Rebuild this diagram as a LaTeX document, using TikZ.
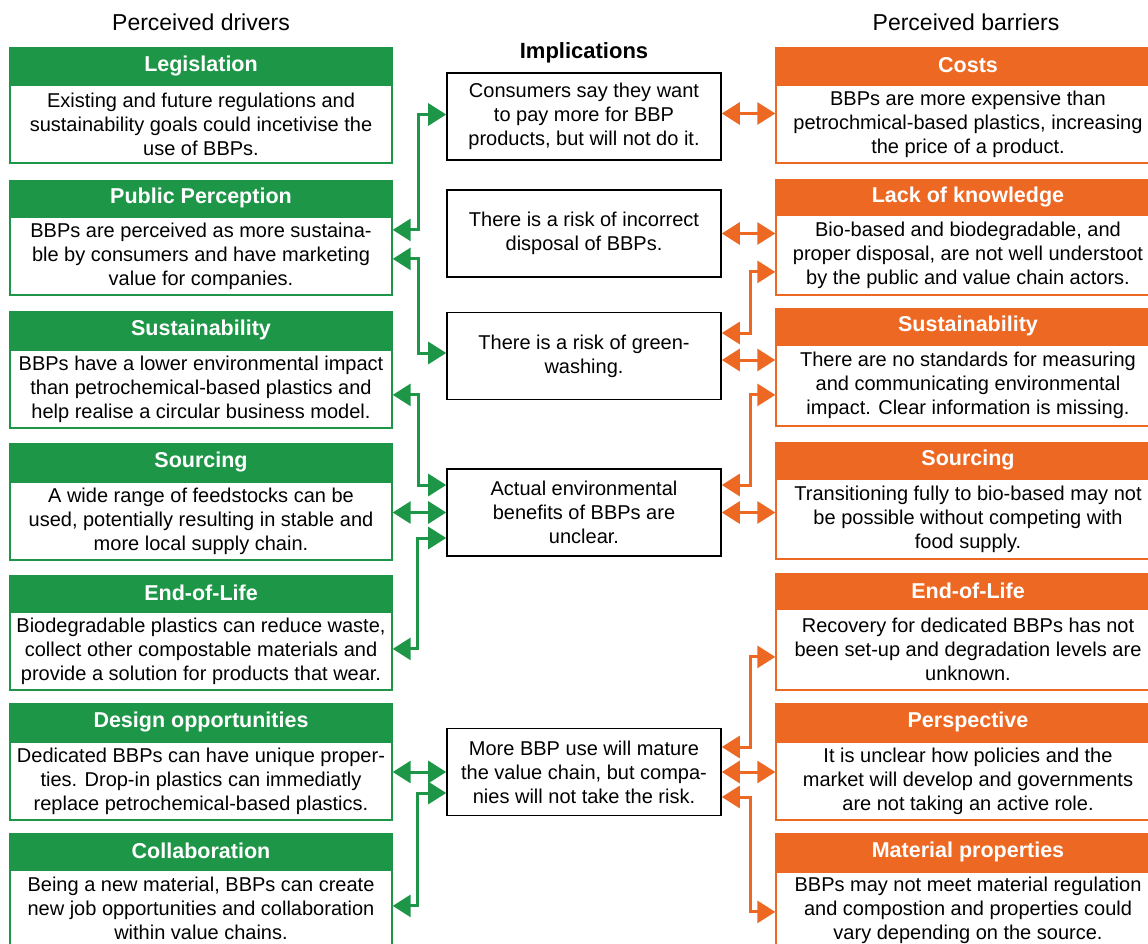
\documentclass[tikz,border=0pt]{standalone}
\usepackage{fontspec}
\setmainfont{Liberation Sans}
\usetikzlibrary{arrows.meta}
\definecolor{gcol}{RGB}{30,150,72}
\definecolor{ocol}{RGB}{237,104,35}
\newcommand{\BoxPair}[8]{%
  \node[#2head, minimum height=#5, anchor=north] (#1h) at (#3,#4) {#7};
  \node[#2body, minimum height=#6, anchor=north] (#1) at (#1h.south) {#8};}
\tikzset{
  bodytext/.style={font=\fontsize{20}{24}\selectfont, align=center, inner xsep=1pt, inner ysep=0pt},
  dhead/.style={draw=gcol, fill=gcol, line width=1.2pt, minimum width=382, text=white, font=\fontsize{21.5}{24}\selectfont\bfseries, inner sep=0pt},
  dbody/.style={draw=gcol, line width=1.4pt, fill=white, minimum width=382, bodytext},
  bhead/.style={draw=ocol, fill=ocol, line width=1.2pt, minimum width=384, text=white, font=\fontsize{21.5}{24}\selectfont\bfseries, inner sep=0pt},
  bbody/.style={draw=ocol, line width=1.4pt, fill=white, minimum width=384, bodytext},
  mid/.style={draw=black, line width=1.6pt, minimum width=274, minimum height=87, bodytext},
  coltitle/.style={font=\fontsize{23}{26}\selectfont},
  garr/.style={draw=gcol, line width=3pt, {Triangle[length=18pt,width=22pt]}-{Triangle[length=18pt,width=22pt]}},
  oarr/.style={draw=ocol, line width=3pt, {Triangle[length=18pt,width=22pt]}-{Triangle[length=18pt,width=22pt]}},
}
\begin{document}
\begin{tikzpicture}[x=1pt,y=-1pt]
\clip (0,0) rectangle (1148,944);
\fill[white] (0,0) rectangle (1148,944);

\node[coltitle] (tdrv) at (201,22) {Perceived drivers};
\node[coltitle] (tbar) at (966,22) {Perceived barriers};
\node[font=\fontsize{22}{26}\selectfont\bfseries] (timp) at (584,53) {Implications};

% drivers
\BoxPair{d1}{d}{201}{47}{36}{78}{Legislation}{Existing and future regulations and\\sustainability goals could incetivise the\\use of BBPs.}
\BoxPair{d2}{d}{201}{180}{35}{78}{Public Perception}{BBPs are perceived as more sustaina-\\ble by consumers and have marketing\\value for companies.}
\BoxPair{d3}{d}{201}{311}{37}{78}{Sustainability}{BBPs have a lower environmental impact\\than petrochemical-based plastics and\\help realise a circular business model.}
\BoxPair{d4}{d}{201}{443}{37}{78}{Sourcing}{A wide range of feedstocks can be\\used, potentially resulting in stable and\\more local supply chain.}
\BoxPair{d5}{d}{201}{575}{35}{78}{End-of-Life}{Biodegradable plastics can reduce waste,\\collect other compostable materials and\\provide a solution for products that wear.}
\BoxPair{d6}{d}{201}{703}{37}{78}{Design opportunities}{Dedicated BBPs can have unique proper-\\ties. Drop-in plastics can immediatly\\replace petrochemical-based plastics.}
\BoxPair{d7}{d}{201}{833}{35}{76}{Collaboration}{Being a new material, BBPs can create\\new job opportunities and collaboration\\within value chains.}

% barriers
\BoxPair{b1}{b}{968}{47}{36}{78}{Costs}{BBPs are more expensive than\\petrochmical-based plastics, increasing\\the price of a product.}
\BoxPair{b2}{b}{968}{179}{34}{80}{Lack of knowledge}{Bio-based and biodegradable, and\\proper disposal, are not well understoot\\by the public and value chain actors.}
\BoxPair{b3}{b}{968}{308}{35}{81}{Sustainability}{There are no standards for measuring\\and communicating environmental\\impact. Clear information is missing.}
\BoxPair{b4}{b}{968}{442}{35}{80}{Sourcing}{Transitioning fully to bio-based may not\\be possible without competing with\\food supply.}
\BoxPair{b5}{b}{968}{573}{34}{81}{End-of-Life}{Recovery for dedicated BBPs has not\\been set-up and degradation levels are\\unknown.}
\BoxPair{b6}{b}{968}{703}{37}{78}{Perspective}{It is unclear how policies and the\\market will develop and governments\\are not taking an active role.}
\BoxPair{b7}{b}{968}{833}{37}{76}{Material properties}{BBPs may not meet material regulation\\and compostion and properties could\\vary depending on the source.}

% implications
\node[mid] (m1) at (584,116.5) {Consumers say they want\\to pay more for BBP\\products, but will not do it.};
\node[mid] (m2) at (584,233.5) {There is a risk of incorrect\\disposal of BBPs.};
\node[mid] (m3) at (584,356) {There is a risk of green-\\washing.};
\node[mid] (m4) at (584,512.5) {Actual environmental\\benefits of BBPs are\\unclear.};
\node[mid] (m5) at (584,772) {More BBP use will mature\\the value chain, but compa-\\nies will not take the risk.};

% green connectors
\draw[garr] ([yshift=26pt]d2.east) -- ++(26,0) |- ([yshift=2pt]m1.west);
\draw[garr] ([yshift=-3pt]d2.east) -- ++(26,0) |- ([yshift=3pt]m3.west);
\draw[garr] ([yshift=-6pt]d3.east) -- ++(26,0) |- ([yshift=27.5pt]m4.west);
\draw[garr] (m4.west -| d4.east) -- (m4.west);
\draw[garr] ([yshift=-25.5pt]m4.west) -- ++(-29,0) |- ([yshift=2pt]d5.east);
\draw[garr] (m5.west -| d6.east) -- (m5.west);
\draw[garr] ([yshift=-21pt]m5.west) -- ++(-29,0) |- ([yshift=2pt]d7.east);

% orange connectors
\draw[oarr] ([yshift=3pt]m1.east) -- ([yshift=3pt]m1.east -| b1.west);
\draw[oarr] (m2.east) -- (m2.east -| b2.west);
\draw[oarr] ([yshift=23pt]m3.east) -- ++(29,0) |- ([yshift=-17pt]b2.west);
\draw[oarr] ([yshift=-4pt]m3.east) -- ([yshift=-4pt]m3.east -| b3.west);
\draw[oarr] ([yshift=27.5pt]m4.east) -- ++(29,0) |- ([yshift=-9.5pt]b3.west);
\draw[oarr] (m4.east) -- (m4.east -| b4.west);
\draw[oarr] ([yshift=25pt]m5.east) -- ++(29,0) |- ([yshift=-7.5pt]b5.west);
\draw[oarr] (m5.east) -- (m5.east -| b6.west);
\draw[oarr] ([yshift=-25pt]m5.east) -- ++(29,0) |- ([yshift=-2pt]b7.west);
\end{tikzpicture}
\end{document}
